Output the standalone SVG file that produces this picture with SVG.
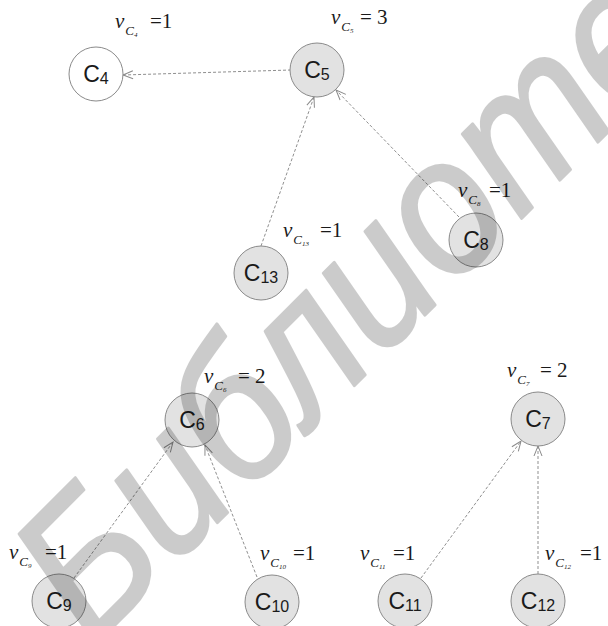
<svg xmlns="http://www.w3.org/2000/svg" width="608" height="626" viewBox="0 0 608 626">
  <style>
    .node circle { fill: #e2e2e2; stroke: #8a8a8a; stroke-width: 1; }
    .node.plain circle { fill: #ffffff; }
    .node text { font-family: "Liberation Sans", Arial, sans-serif; font-size: 23px; fill: #1a1a1a; text-anchor: middle; }
    .node text tspan { font-size: 16px; }
    .edge { fill: none; stroke: #8f8f8f; stroke-width: 1; stroke-dasharray: 3 2; marker-end: url(#arrow); }
    .lbl { font-family: "Liberation Serif", "Times New Roman", serif; font-size: 21px; fill: #1a1a1a; }
    .lbl .nu { font-style: italic; }
    .lbl .sc { font-style: italic; font-size: 13px; }
    .lbl .si { font-style: italic; font-size: 7px; }
    .wm { font-family: "Liberation Sans", Arial, sans-serif; font-style: italic; font-size: 192px; fill: #000; stroke: #000; stroke-width: 3; stroke-linejoin: round; }
  </style>
  <defs>
    <marker id="arrow" markerUnits="userSpaceOnUse" markerWidth="14" markerHeight="10" refX="11" refY="5" orient="auto">
      <path d="M1,1 L11,5 L1,9" fill="none" stroke="#8a8a8a" stroke-width="1"/>
    </marker>
  </defs>
  <rect width="608" height="626" fill="#ffffff"/>

  <!-- connectors -->
  <g id="edges">
    <path class="edge" d="M291,70 L123,75"/>
    <path class="edge" d="M261,246 L314,97"/>
    <path class="edge" d="M459,217 L336,90"/>
    <path class="edge" d="M74,578 L173,442"/>
    <path class="edge" d="M257,577 L205,445"/>
    <path class="edge" d="M421,578 L521,441"/>
    <path class="edge" d="M538,574 L538,446"/>
  </g>

  <!-- nodes -->
  <g id="C4" class="node plain"><circle cx="96" cy="74" r="27"/><text x="96" y="82">C<tspan dy="2">4</tspan></text></g>
  <g id="C5" class="node"><circle cx="317" cy="70" r="27"/><text x="317" y="78">C<tspan dy="2">5</tspan></text></g>
  <g id="C13" class="node"><circle cx="261" cy="273" r="27"/><text x="261" y="281">C<tspan dy="2">13</tspan></text></g>
  <g id="C8" class="node"><circle cx="476" cy="240" r="27"/><text x="476" y="248">C<tspan dy="2">8</tspan></text></g>
  <g id="C6" class="node"><circle cx="192" cy="420" r="27"/><text x="192" y="428">C<tspan dy="2">6</tspan></text></g>
  <g id="C7" class="node"><circle cx="538" cy="419" r="27"/><text x="538" y="427">C<tspan dy="2">7</tspan></text></g>
  <g id="C9" class="node"><circle cx="59" cy="601" r="27"/><text x="59" y="609">C<tspan dy="2">9</tspan></text></g>
  <g id="C10" class="node"><circle cx="272" cy="602" r="27"/><text x="272" y="610">C<tspan dy="2">10</tspan></text></g>
  <g id="C11" class="node"><circle cx="405" cy="601" r="27"/><text x="405" y="609">C<tspan dy="2">11</tspan></text></g>
  <g id="C12" class="node"><circle cx="538" cy="601" r="27"/><text x="538" y="609">C<tspan dy="2">12</tspan></text></g>

  <!-- weight labels -->
  <g id="labels" class="lbl">
    <text x="115" y="28"><tspan class="nu">ν</tspan><tspan class="sc" dx="1" dy="7">C</tspan><tspan class="si" dy="2">4</tspan></text>
    <text x="150" y="28">=1</text>
    <text x="331" y="24"><tspan class="nu">ν</tspan><tspan class="sc" dx="1" dy="7">C</tspan><tspan class="si" dy="2">5</tspan></text>
    <text x="360" y="24">= 3</text>
    <text x="458" y="197"><tspan class="nu">ν</tspan><tspan class="sc" dx="1" dy="7">C</tspan><tspan class="si" dy="2">8</tspan></text>
    <text x="489" y="197">=1</text>
    <text x="283" y="237"><tspan class="nu">ν</tspan><tspan class="sc" dx="1" dy="7">C</tspan><tspan class="si" dy="2">13</tspan></text>
    <text x="320" y="237">=1</text>
    <text x="204" y="383"><tspan class="nu">ν</tspan><tspan class="sc" dx="1" dy="7">C</tspan><tspan class="si" dy="2">6</tspan></text>
    <text x="238" y="383">= 2</text>
    <text x="507" y="377"><tspan class="nu">ν</tspan><tspan class="sc" dx="1" dy="7">C</tspan><tspan class="si" dy="2">7</tspan></text>
    <text x="540" y="377">= 2</text>
    <text x="9" y="559"><tspan class="nu">ν</tspan><tspan class="sc" dx="1" dy="7">C</tspan><tspan class="si" dy="2">9</tspan></text>
    <text x="45" y="559">=1</text>
    <text x="260" y="560"><tspan class="nu">ν</tspan><tspan class="sc" dx="1" dy="7">C</tspan><tspan class="si" dy="2">10</tspan></text>
    <text x="293" y="560">=1</text>
    <text x="360" y="560"><tspan class="nu">ν</tspan><tspan class="sc" dx="1" dy="7">C</tspan><tspan class="si" dy="2">11</tspan></text>
    <text x="393" y="560">=1</text>
    <text x="545" y="560"><tspan class="nu">ν</tspan><tspan class="sc" dx="1" dy="7">C</tspan><tspan class="si" dy="2">12</tspan></text>
    <text x="580" y="560">=1</text>
  </g>

  <!-- watermark, drawn over everything as a translucent layer -->
  <g id="watermark" opacity="0.2">
    <text class="wm" transform="translate(92,648) rotate(-45) scale(0.92,1)">Библиотека</text>
  </g>
</svg>
